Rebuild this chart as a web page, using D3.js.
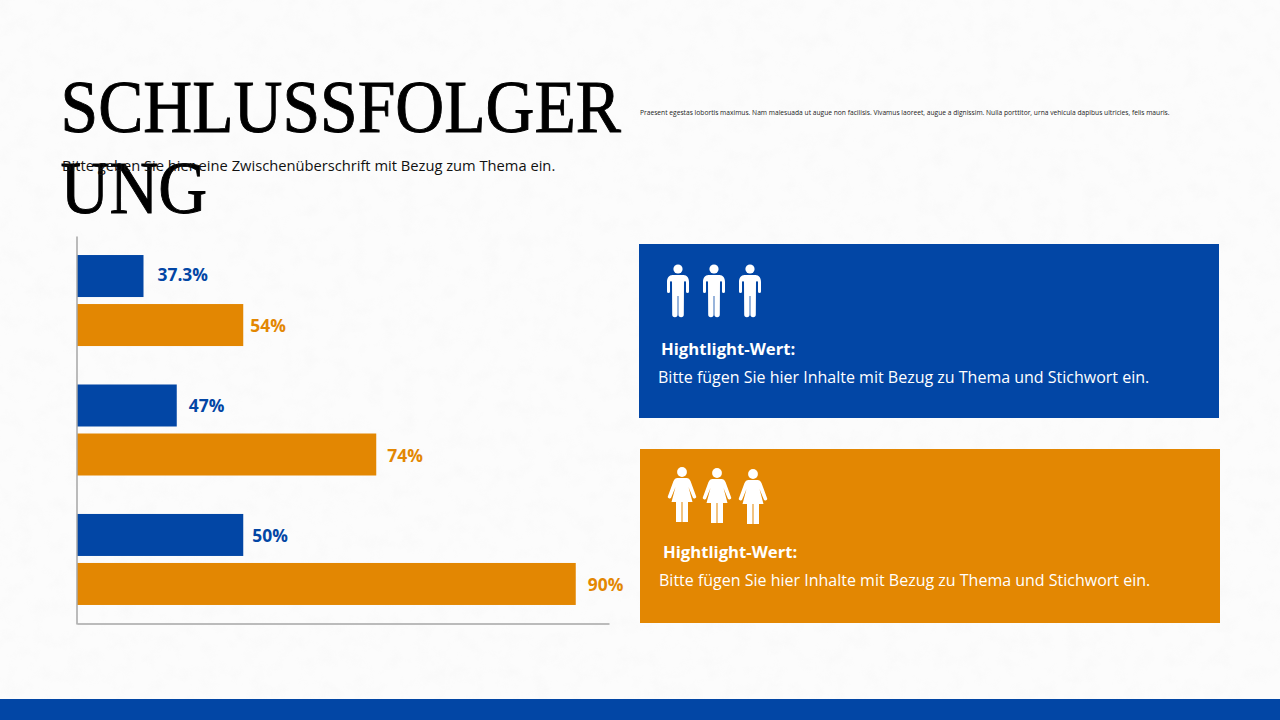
<!DOCTYPE html>
<html>
<head>
<meta charset="utf-8">
<script src="https://cdn.jsdelivr.net/npm/d3@7"></script>
<style>
  html, body { margin: 0; padding: 0; background: #fcfcfc; }
  svg { display: block; }
  .sans { font-family: "Open Sans", sans-serif; }
</style>
</head>
<body>
<script>
var groups = ["A", "B", "C"];
var seriesNames = ["blau", "orange"];
// bar lengths as drawn, they do not follow the printed labels
var blueValues = [2, 3, 5];
var orangeValues = [5, 9, 15];
var blueLabels = ["37.3%", "47%", "50%"];
var orangeLabels = ["54%", "74%", "90%"];
var xMax = 16;

var titleLines = ["SCHLUSSFOLGER", "UNG"];
var subtitle = "Bitte geben Sie hier eine Zwischenüberschrift mit Bezug zum Thema ein.";
var intro = "Praesent egestas lobortis maximus. Nam malesuada ut augue non facilisis. Vivamus laoreet, augue a dignissim. Nulla porttitor, urna vehicula dapibus ultricies, felis mauris.";
var panelHead = "Hightlight-Wert:";
var panelBody = "Bitte fügen Sie hier Inhalte mit Bezug zu Thema und Stichwort ein.";

var BLUE = "#0246a5", ORANGE = "#e38702";

var svg = d3.select("body").append("svg")
    .attr("width", 1280)
    .attr("height", 720);

// paper texture
var filter = svg.append("defs").append("filter").attr("id", "paper")
    .attr("x", 0).attr("y", 0).attr("width", "100%").attr("height", "100%");
filter.append("feTurbulence")
    .attr("type", "fractalNoise")
    .attr("baseFrequency", 0.06)
    .attr("numOctaves", 5)
    .attr("seed", 11);
filter.append("feColorMatrix")
    .attr("values", "0 0 0 0 0.55  0 0 0 0 0.55  0 0 0 0 0.55  1.6 0 0 0 -0.72");

svg.append("rect").attr("width", 1280).attr("height", 720).attr("fill", "#fcfcfc");
svg.append("rect").attr("width", 1280).attr("height", 720)
    .attr("filter", "url(#paper)").attr("opacity", 0.06);

// heading, squeezed like the reference
svg.selectAll(".title")
    .data(titleLines)
  .enter().append("text")
    .attr("class", "title")
    .attr("transform", function(d, i) { return "translate(60.5," + (132 + i * 81) + ") scale(0.915,1)"; })
    .style("font-family", "'Liberation Serif', serif")
    .style("font-size", "74px")
    .attr("fill", "#000")
    .attr("stroke", "#000")
    .attr("stroke-width", 0.9)
    .text(function(d) { return d; });

svg.append("text").attr("class", "sans")
    .attr("x", 62).attr("y", 171)
    .style("font-size", "14.7px")
    .attr("fill", "#111")
    .text(subtitle);

svg.append("text").attr("class", "sans")
    .attr("x", 640).attr("y", 115)
    .style("font-size", "6.68px")
    .attr("fill", "#222")
    .text(intro);

// chart
var x = d3.scaleLinear().domain([0, xMax]).range([77, 609]);
var y = d3.scaleBand().domain(groups).range([236, 624])
    .paddingInner(0.297).paddingOuter(0.147);
var ySub = d3.scaleBand().domain(seriesNames).range([0, y.bandwidth()])
    .paddingInner(0.143);

var labelGap = {blau: [14, 12, 9], orange: [7, 11, 12]};
var labelLift = {blau: [-2, 0, 0], orange: [0, 0, 0]};

function drawSeries(name, values, labels, color) {
  var g = svg.append("g");
  g.selectAll("rect")
      .data(values)
    .enter().append("rect")
      .attr("x", x(0))
      .attr("y", function(d, i) { return y(groups[i]) + ySub(name); })
      .attr("width", function(d) { return x(d) - x(0); })
      .attr("height", ySub.bandwidth())
      .attr("fill", color);
  g.selectAll("text")
      .data(values)
    .enter().append("text")
      .attr("class", "sans")
      .attr("x", function(d, i) { return x(d) + labelGap[name][i]; })
      .attr("y", function(d, i) { return y(groups[i]) + ySub(name) + ySub.bandwidth() / 2 + 7 + labelLift[name][i]; })
      .style("font-size", "17.4px")
      .style("font-weight", 700)
      .attr("fill", color)
      .text(function(d, i) { return labels[i]; });
}
drawSeries("blau", blueValues, blueLabels, BLUE);
drawSeries("orange", orangeValues, orangeLabels, ORANGE);

var xAxis = svg.append("g").attr("transform", "translate(0,623.5)")
    .call(d3.axisBottom(x).tickValues([]).tickSize(0));
var yAxis = svg.append("g").attr("transform", "translate(76.5,0)")
    .call(d3.axisLeft(y).tickValues([]).tickSize(0));
xAxis.select(".domain").attr("stroke", "#a6a6a6").attr("stroke-width", 1.5);
yAxis.select(".domain").attr("stroke", "#a6a6a6").attr("stroke-width", 1.5);

// panels
var manPath = "M-5.5,6 C-9,6 -11,9 -11,13 L-11,22.5 A1.5,1.5 0 0 0 -8,22.5 L-8,13 C-8,12 -6,12 -6,13 L-5.8,45.5 A2.7,2.7 0 0 0 -0.4,45.5 L-0.4,27 L0.4,27 L0.4,45.5 A2.7,2.7 0 0 0 5.8,45.5 L6,13 C6,12 8,12 8,13 L8,22.5 A1.5,1.5 0 0 0 11,22.5 L11,13 C11,9 9,6 5.5,6 Z";
var womanPath = "M-4.5,6 C-6.5,6 -7.5,7 -8.5,9 L-14,24 A1.7,1.7 0 0 0 -10.8,25.5 L-6.5,15 L-10.5,30 L-6,30 L-6,50 L-0.5,50 L-0.5,30 L0.5,30 L0.5,50 L6,50 L6,30 L10.5,30 L6.5,15 L10.8,25.5 A1.7,1.7 0 0 0 14,24 L8.5,9 C7.5,7 6.5,6 4.5,6 Z";

function drawPanel(px, py, color, path, heads, headX, bodyX, headR, lift) {
  svg.append("rect")
      .attr("x", px).attr("y", py)
      .attr("width", 580).attr("height", 174)
      .attr("fill", color);
  var icon = svg.selectAll(null)
      .data(heads)
    .enter().append("g")
      .attr("transform", function(d) { return "translate(" + d[0] + "," + d[1] + ")"; })
      .attr("fill", "#fff");
  icon.append("circle").attr("r", headR);
  icon.append("path").attr("d", path);
  svg.append("text").attr("class", "sans")
      .attr("x", headX).attr("y", py + 111 - lift)
      .style("font-size", "16.7px").style("font-weight", 700)
      .attr("fill", "#fff")
      .text(panelHead);
  svg.append("text").attr("class", "sans")
      .attr("x", bodyX).attr("y", py + 139 - lift)
      .style("font-size", "16px")
      .attr("fill", "#fff")
      .text(panelBody);
}
drawPanel(639, 244, BLUE, manPath, [[678, 269], [714, 269], [750, 269]], 661, 658, 4.6, 0);
drawPanel(640, 449, ORANGE, womanPath, [[682, 472], [717, 473], [753, 474]], 663, 659, 4.9, 2);

svg.append("rect")
    .attr("x", 0).attr("y", 699)
    .attr("width", 1280).attr("height", 21)
    .attr("fill", BLUE);
</script>
</body>
</html>
